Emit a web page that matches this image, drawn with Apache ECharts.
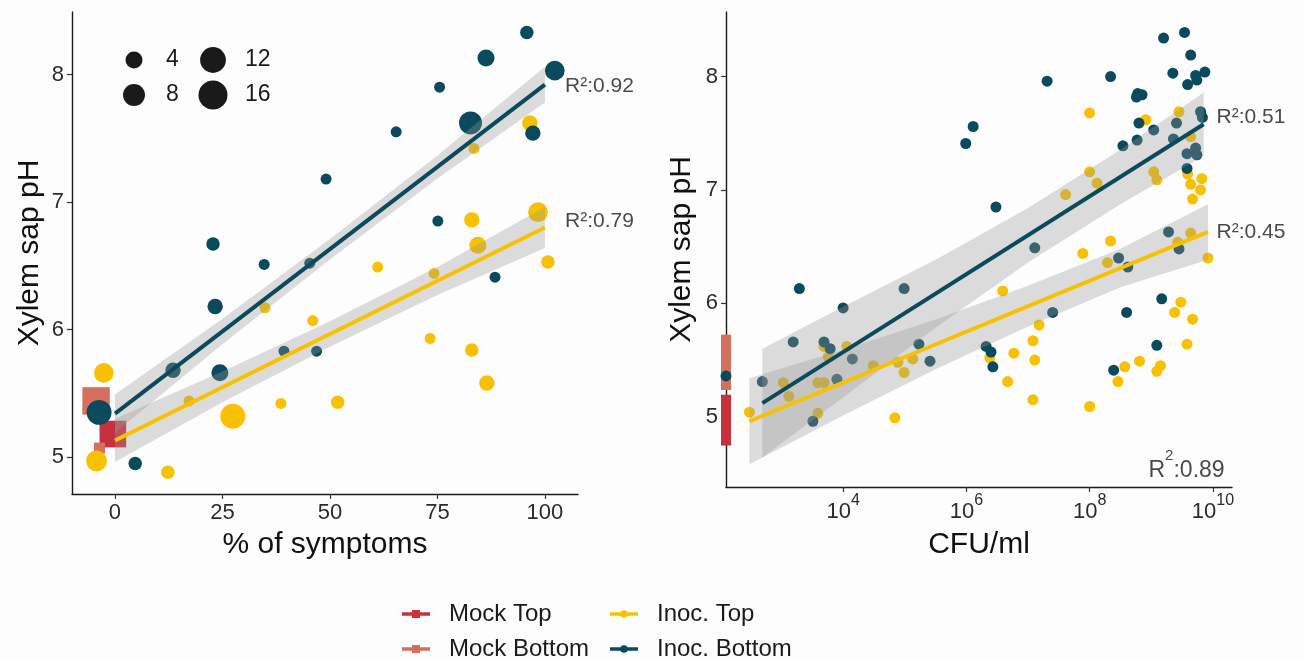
<!DOCTYPE html>
<html>
<head>
<meta charset="utf-8">
<title>Xylem sap pH</title>
<script src="https://cdn.jsdelivr.net/npm/echarts@6.0.0/dist/echarts.min.js"></script>
<style>
  html, body { margin: 0; padding: 0; background: #fdfdfd; }
  #chart { width: 1303px; height: 659px; }
</style>
</head>
<body>
<div id="chart"></div>
<script>
// ---- data: left panel, % of symptoms vs pH, third value = number of plants (point size)
const symInocBottom = [
  [95.8, 8.33, 2], [86.3, 8.13, 4], [102.3, 8.03, 6], [75.5, 7.90, 1], [65.4, 7.55, 1],
  [82.7, 7.62, 9], [97.2, 7.54, 3], [49.1, 7.18, 1], [75.1, 6.85, 1], [22.8, 6.67, 2],
  [34.7, 6.51, 1], [45.3, 6.52, 1], [23.3, 6.18, 3], [13.5, 5.68, 3], [24.4, 5.66, 4],
  [39.3, 5.83, 1], [46.9, 5.83, 1], [-3.7, 5.35, 11], [4.7, 4.95, 2], [88.4, 6.41, 1]
];
const symInocTop = [
  [96.5, 7.62, 3], [83.5, 7.42, 1], [98.4, 6.92, 6], [83.0, 6.86, 3], [84.4, 6.66, 4],
  [100.7, 6.53, 2], [61.1, 6.49, 1], [74.2, 6.44, 1], [34.9, 6.17, 1], [46.0, 6.07, 1],
  [73.3, 5.93, 1], [83.0, 5.84, 2], [86.5, 5.58, 3], [51.8, 5.43, 2], [38.6, 5.42, 1],
  [17.2, 5.44, 1], [27.4, 5.32, 11], [-2.6, 5.66, 6], [-4.3, 4.97, 7], [12.3, 4.88, 2]
];
const symMockTop = [[-0.5, 5.18, 13]];
const symMockBottom = [[-4.4, 5.44, 14], [-3.6, 5.07, 1]];

// fitted lines and confidence bands [x, low, high]
const symFitInocBottom = [[0, 5.34], [100, 7.92]];
const symFitInocTop = [[0, 5.13], [100, 6.80]];
const symBandInocBottom = [[0, 5.19, 5.49], [25, 5.885, 6.085], [50, 6.55, 6.71], [75, 7.185, 7.365], [100, 7.78, 8.06]];
const symBandInocTop = [[0, 4.96, 5.30], [25, 5.43, 5.67], [50, 5.865, 6.065], [75, 6.27, 6.49], [100, 6.64, 6.96]];

// ---- data: right panel, log10(CFU/ml) vs pH
const cfuInocBottom = [
  [5.99, 7.41], [6.11, 7.56], [6.48, 6.85], [7.31, 7.96], [7.11, 6.49],
  [9.54, 8.39], [9.20, 8.34], [9.64, 8.19], [9.35, 8.03], [9.87, 8.04], [9.72, 8.01], [9.74, 7.97], [9.59, 7.93], [8.34, 8.00],
  [8.78, 7.85], [8.85, 7.84], [8.76, 7.82], [8.80, 7.59], [9.80, 7.69], [9.83, 7.64], [9.41, 7.59], [9.04, 7.53],
  [9.36, 7.45], [8.54, 7.39], [8.77, 7.44], [9.72, 7.37], [9.58, 7.32], [9.74, 7.31], [9.58, 7.19],
  [9.28, 6.63], [9.45, 6.48], [8.47, 6.40], [8.62, 6.32],
  [9.17, 6.04], [7.40, 5.92], [8.60, 5.92], [9.09, 5.63], [8.39, 5.41],
  [4.99, 6.13], [6.32, 5.62], [6.40, 5.57], [6.43, 5.44], [5.23, 5.64], [5.41, 5.49], [4.15, 5.51], [4.00, 5.96],
  [3.29, 6.13], [3.19, 5.66], [3.69, 5.66], [3.79, 5.60], [2.69, 5.31], [3.90, 5.33], [3.51, 4.96]
];
const cfuInocTop = [
  [8.00, 7.68], [8.00, 7.16], [8.12, 7.06], [7.61, 6.96], [7.89, 6.44],
  [8.91, 7.62], [9.45, 7.69], [9.64, 7.47], [9.59, 7.14], [9.82, 7.10], [9.64, 7.05], [9.80, 7.00], [9.67, 6.92], [9.04, 7.16], [9.09, 7.09],
  [9.64, 6.62], [9.43, 6.54], [8.34, 6.55], [9.92, 6.40], [8.29, 6.36],
  [6.59, 6.11], [9.48, 6.01], [9.38, 5.92], [9.67, 5.86], [7.18, 5.81], [7.08, 5.67], [9.58, 5.64], [6.77, 5.56],
  [7.11, 5.50], [8.81, 5.49], [8.57, 5.44], [9.15, 5.45], [9.09, 5.40], [8.46, 5.31], [6.67, 5.31], [7.08, 5.15], [8.00, 5.09],
  [6.38, 5.52], [4.84, 4.99], [5.13, 5.51], [4.89, 5.48], [4.49, 5.45], [4.99, 5.39],
  [3.69, 5.62], [4.06, 5.62], [3.76, 5.53], [3.03, 5.30], [3.12, 5.18], [3.59, 5.30], [3.69, 5.30], [2.48, 5.04], [3.59, 5.03]
];
// samples with no CFU (drawn on the axis)
const cfuMockTopPH = [5.15, 5.08, 5.00, 4.93, 4.86, 4.79];
const cfuMockBottomPH = [5.68, 5.61, 5.55, 5.49, 5.43, 5.31, 5.28];
const cfuInocBottomZeroPH = [5.36];

const cfuFitInocBottom = [[2.69, 5.12], [9.85, 7.58]];
const cfuFitInocTop = [[2.48, 4.96], [9.92, 6.63]];
const cfuBandInocBottom = [[2.69, 4.64, 5.60], [4, 5.17, 5.97], [5.5, 5.785, 6.385], [7, 6.36, 6.84], [8.5, 6.875, 7.355], [9.85, 7.30, 7.86]];
const cfuBandInocTop = [[2.48, 4.58, 5.34], [4, 5.01, 5.59], [5.5, 5.418, 5.858], [7, 5.795, 6.155], [8.5, 6.141, 6.481], [9.92, 6.385, 6.875]];

// annotations [text, x, y]
const symR2 = [['R²:0.92', 104.7, 7.91], ['R²:0.79', 104.7, 6.85]];
const cfuR2 = [['R²:0.51', 10.06, 7.64], ['R²:0.45', 10.06, 6.63]];
const cfuR2All = [['0.89', 10.19, 4.57]];

// ticks
const symTicks = [0, 25, 50, 75, 100];
const phTicks = [5, 6, 7, 8];
const cfuTicks = [4, 6, 8, 10];
const sizeLegendN = [4, 8, 12, 16];

// ---- style
const FONT = '"Liberation Sans", Arial, sans-serif';
const C_MOCK_TOP = '#c9303e';
const C_MOCK_BOT = '#d6705e';
const C_INOC_TOP = '#f7c100';
const C_INOC_BOT = '#0b4a5c';
const BAND_FILL = 'rgba(153,153,153,0.33)';
const TICK_COLOR = '#2b2b2b';
const SYM_MIN = -10, SYM_MAX = 107.7;
const CFU_MIN = 2.1, CFU_MAX = 10.31;

const pointSize = n => 5 + 6 * Math.sqrt(n);

const chart = echarts.init(document.getElementById('chart'));

function axisCommon(ticks) {
  return {
    axisLine: { onZero: false, lineStyle: { color: '#1a1a1a', width: 1.4 } },
    axisTick: { customValues: ticks, length: 5, lineStyle: { color: '#333', width: 1.2 } },
    axisLabel: { customValues: ticks, color: TICK_COLOR, fontSize: 22, fontFamily: FONT, margin: 8 },
    splitLine: { show: false },
    nameLocation: 'middle',
    nameTextStyle: { fontSize: 30, color: '#111', fontFamily: FONT }
  };
}

function bandSeries(band, xi, yi) {
  return {
    type: 'custom',
    xAxisIndex: xi,
    yAxisIndex: yi,
    silent: true,
    z: 5,
    data: [band[0]],
    renderItem: (params, api) => {
      const upper = band.map(b => api.coord([b[0], b[2]]));
      const lower = band.map(b => api.coord([b[0], b[1]])).reverse();
      return {
        type: 'polygon',
        shape: { points: upper.concat(lower) },
        style: { fill: BAND_FILL }
      };
    }
  };
}

function fitSeries(name, fit, color, xi, yi) {
  return {
    name: name,
    type: 'line',
    xAxisIndex: xi,
    yAxisIndex: yi,
    data: fit,
    showSymbol: false,
    silent: true,
    z: 6,
    lineStyle: { color: color, width: 4 },
    itemStyle: { color: color }
  };
}

function labelSeries(items, xi, yi, pos, rich) {
  return {
    type: 'scatter',
    xAxisIndex: xi,
    yAxisIndex: yi,
    symbolSize: 0,
    silent: true,
    z: 7,
    data: items.map(t => ({ name: t[0], value: [t[1], t[2]] })),
    label: {
      show: true,
      position: pos,
      distance: 0,
      formatter: rich ? p => '{r|R}{s|2}{r|:' + p.name + '}' : '{b}',
      color: '#1a1a1a',
      fontSize: 21,
      fontFamily: FONT,
      rich: rich ? {
        r: { fontSize: 23, fontFamily: FONT, color: '#1a1a1a', lineHeight: 34, verticalAlign: 'bottom' },
        s: { fontSize: 15, fontFamily: FONT, color: '#1a1a1a', lineHeight: 34, verticalAlign: 'top' }
      } : undefined
    }
  };
}

function legendItem(name, icon, left, top) {
  return {
    left: left, top: top, padding: 0,
    itemWidth: 28, itemHeight: 10, selectedMode: false,
    textStyle: { fontSize: 24, color: '#1a1a1a', fontFamily: FONT, padding: [0, 0, 0, 14] },
    data: [{ name: name, icon: icon }]
  };
}
const ICON_SQUARE = 'path://M0,3.2H28V6.8H0Z M10,1H18V9H10Z';
const ICON_DOT = 'path://M0,3.2H28V6.8H0Z M14,1.2A3.8,3.8 0 1 1 13.99,1.2Z';

const sizeGraphics = [];
sizeLegendN.forEach((n, i) => {
  const cx = i < 2 ? 134 : 213;
  const cy = i % 2 === 0 ? 60 : 95;
  sizeGraphics.push({
    type: 'circle',
    shape: { cx: cx, cy: cy, r: pointSize(n) / 2 },
    style: { fill: '#1a1a1a' }
  });
  sizeGraphics.push({
    type: 'text',
    x: cx + 32,
    y: cy,
    style: {
      text: String(n), font: '23px ' + FONT, fill: '#1a1a1a',
      textVerticalAlign: 'middle', verticalAlign: 'middle'
    }
  });
});

const option = {
  backgroundColor: '#fdfdfd',
  animation: false,
  textStyle: { fontFamily: FONT },
  grid: [
    { left: 72, top: 12, width: 506, height: 482, containLabel: false, outerBoundsMode: 'none' },
    { left: 726, top: 12, width: 506, height: 475, containLabel: false, outerBoundsMode: 'none' }
  ],
  xAxis: [
    Object.assign(axisCommon(symTicks), {
      gridIndex: 0, type: 'value', min: SYM_MIN, max: SYM_MAX,
      name: '% of symptoms', nameGap: 36
    }),
    Object.assign(axisCommon(cfuTicks), {
      gridIndex: 1, type: 'value', min: CFU_MIN, max: CFU_MAX,
      name: 'CFU/ml', nameGap: 43
    })
  ],
  yAxis: [
    Object.assign(axisCommon(phTicks), {
      gridIndex: 0, type: 'value', min: 4.71, max: 8.49,
      name: 'Xylem sap pH', nameGap: 27
    }),
    Object.assign(axisCommon(phTicks), {
      gridIndex: 1, type: 'value', min: 4.38, max: 8.57,
      name: 'Xylem sap pH', nameGap: 29
    })
  ],
  legend: [
    legendItem('Mock Top', ICON_SQUARE, 402, 602),
    legendItem('Mock Bottom', ICON_SQUARE, 402, 637),
    legendItem('Inoc. Top', ICON_DOT, 610, 602),
    legendItem('Inoc. Bottom', ICON_DOT, 610, 637)
  ],
  graphic: sizeGraphics,
  series: [
    // left panel
    { name: 'Mock Top', type: 'scatter', xAxisIndex: 0, yAxisIndex: 0, symbol: 'rect', z: 2,
      data: symMockTop, symbolSize: d => pointSize(d[2]), itemStyle: { color: C_MOCK_TOP, opacity: 1 } },
    { name: 'Mock Bottom', type: 'scatter', xAxisIndex: 0, yAxisIndex: 0, symbol: 'rect', z: 2,
      data: symMockBottom, symbolSize: d => pointSize(d[2]), itemStyle: { color: C_MOCK_BOT, opacity: 1 } },
    { name: 'Inoc. Top', type: 'scatter', xAxisIndex: 0, yAxisIndex: 0, symbol: 'circle', z: 3,
      data: symInocTop, symbolSize: d => pointSize(d[2]), itemStyle: { color: C_INOC_TOP, opacity: 1 } },
    { name: 'Inoc. Bottom', type: 'scatter', xAxisIndex: 0, yAxisIndex: 0, symbol: 'circle', z: 4,
      data: symInocBottom, symbolSize: d => pointSize(d[2]), itemStyle: { color: C_INOC_BOT, opacity: 1 } },
    bandSeries(symBandInocBottom, 0, 0),
    bandSeries(symBandInocTop, 0, 0),
    fitSeries('Inoc. Bottom', symFitInocBottom, C_INOC_BOT, 0, 0),
    fitSeries('Inoc. Top', symFitInocTop, C_INOC_TOP, 0, 0),
    labelSeries(symR2, 0, 0, 'right', false),

    // right panel
    { name: 'Mock Top', type: 'scatter', xAxisIndex: 1, yAxisIndex: 1, symbol: 'rect', z: 2, symbolSize: 10,
      data: cfuMockTopPH.map(v => [CFU_MIN, v]), itemStyle: { color: C_MOCK_TOP, opacity: 1 } },
    { name: 'Mock Bottom', type: 'scatter', xAxisIndex: 1, yAxisIndex: 1, symbol: 'rect', z: 2, symbolSize: 10,
      data: cfuMockBottomPH.map(v => [CFU_MIN, v]), itemStyle: { color: C_MOCK_BOT, opacity: 1 } },
    { name: 'Inoc. Top', type: 'scatter', xAxisIndex: 1, yAxisIndex: 1, symbol: 'circle', z: 3, symbolSize: 11,
      data: cfuInocTop, itemStyle: { color: C_INOC_TOP, opacity: 1 } },
    { name: 'Inoc. Bottom', type: 'scatter', xAxisIndex: 1, yAxisIndex: 1, symbol: 'circle', z: 4, symbolSize: 11,
      data: cfuInocBottom.concat(cfuInocBottomZeroPH.map(v => [CFU_MIN, v])), itemStyle: { color: C_INOC_BOT, opacity: 1 } },
    bandSeries(cfuBandInocBottom, 1, 1),
    bandSeries(cfuBandInocTop, 1, 1),
    fitSeries('Inoc. Bottom', cfuFitInocBottom, C_INOC_BOT, 1, 1),
    fitSeries('Inoc. Top', cfuFitInocTop, C_INOC_TOP, 1, 1),
    labelSeries(cfuR2, 1, 1, 'right', false),
    labelSeries(cfuR2All, 1, 1, 'left', true)
  ]
};

// powers of ten on the CFU axis
option.xAxis[1].axisLabel.formatter = v => '{b|10}{s|' + v + '}';
option.xAxis[1].axisLabel.rich = {
  b: { fontSize: 22, color: TICK_COLOR, fontFamily: FONT, lineHeight: 30, verticalAlign: 'bottom' },
  s: { fontSize: 16, color: TICK_COLOR, fontFamily: FONT, lineHeight: 30, verticalAlign: 'top' }
};
option.xAxis[1].axisLabel.margin = 6;

chart.setOption(option);
</script>
</body>
</html>
